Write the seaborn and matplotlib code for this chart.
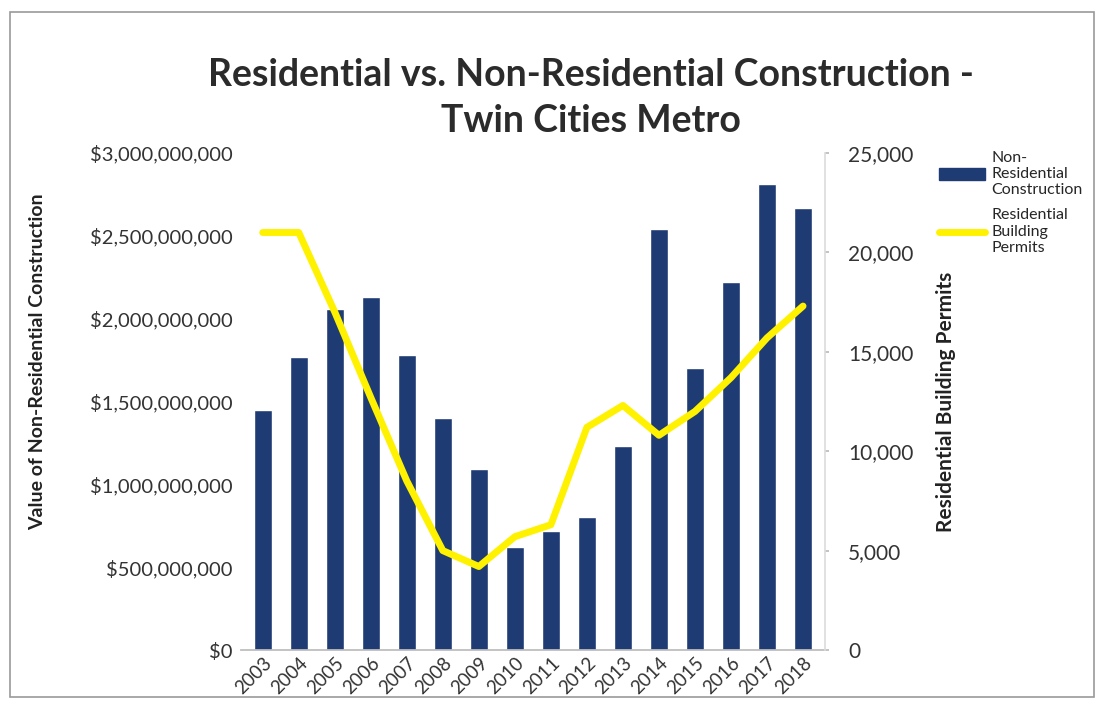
import matplotlib
matplotlib.use("Agg")
import matplotlib.pyplot as plt
import matplotlib.ticker as mticker
from matplotlib.patches import Rectangle
from matplotlib.lines import Line2D
import seaborn as sns
import pandas as pd
import numpy as np

years = ["2003", "2004", "2005", "2006", "2007", "2008", "2009", "2010",
         "2011", "2012", "2013", "2014", "2015", "2016", "2017", "2018"]
nonres_value = [1.45e9, 1.77e9, 2.06e9, 2.13e9, 1.78e9, 1.40e9, 1.09e9, 0.62e9,
                0.72e9, 0.80e9, 1.23e9, 2.54e9, 1.70e9, 2.22e9, 2.81e9, 2.67e9]
res_permits = [21000, 21000, 17000, 12700, 8500, 5000, 4200, 5700,
               6300, 11200, 12300, 10800, 12000, 13700, 15700, 17300]

sns.set_theme(style="white")
plt.rcParams['font.family'] = ['Lato', 'DejaVu Sans']

df = pd.DataFrame({"year": years, "value": nonres_value, "permits": res_permits})
df["pos"] = np.arange(len(df))

fig = plt.figure(figsize=(11.01, 7.05), dpi=100)
ax = fig.add_axes([0.219, 0.078, 0.530, 0.705])

sns.barplot(data=df, x="year", y="value", color="#1F3B73", saturation=1,
            width=0.5, ax=ax)
ax.set_ylim(0, 3e9)
ax.set_xlim(-0.6, len(years) - 0.4)
ax.yaxis.set_major_locator(mticker.MultipleLocator(5e8))
ax.yaxis.set_major_formatter(mticker.FuncFormatter(lambda v, p: f"${v:,.0f}"))
ax.set_xlabel("")
ax.set_ylabel("Value of Non-Residential Construction", fontsize=14,
              fontweight="bold", color="#222222", labelpad=20)
ax.yaxis.set_label_coords(-0.335, 0.58)
ax.tick_params(axis="y", labelsize=14.5, colors="#333333", length=0, pad=6)
ax.tick_params(axis="x", labelsize=13.5, colors="#333333", length=0, pad=3)
for lbl in ax.get_xticklabels():
    lbl.set_rotation(45)
    lbl.set_ha("right")
    lbl.set_rotation_mode("anchor")
for s in ["top", "left", "right"]:
    ax.spines[s].set_visible(False)
ax.spines["bottom"].set_color("#BBBBBB")

ax2 = ax.twinx()
sns.lineplot(data=df, x="pos", y="permits", color="#FFF200", linewidth=5,
             ax=ax2, legend=False)
ax2.set_ylim(0, 25000)
ax2.set_xlim(-0.6, len(years) - 0.4)
ax2.yaxis.set_major_locator(mticker.MultipleLocator(5000))
ax2.yaxis.set_major_formatter(mticker.FuncFormatter(lambda v, p: f"{v:,.0f}"))
ax2.set_ylabel("Residential Building Permits", fontsize=15, fontweight="bold",
               color="#222222", labelpad=16)
ax2.tick_params(axis="y", labelsize=15, colors="#333333", length=3, pad=14,
                color="#BBBBBB")
for s in ["top", "left", "bottom"]:
    ax2.spines[s].set_visible(False)
ax2.spines["right"].set_color("#DDDDDD")
ax2.set_xlabel("")

fig.text(0.537, 0.893, "Residential vs. Non-Residential Construction -",
         ha="center", va="center", fontsize=27, fontweight="bold", color="#2B2B2B")
fig.text(0.537, 0.828, "Twin Cities Metro",
         ha="center", va="center", fontsize=27, fontweight="bold", color="#2B2B2B")

handles = [Rectangle((0, 0), 1, 1, color="#1F3B73"),
           Line2D([0], [0], color="#FFF200", linewidth=5)]
labels = ["Non-\nResidential\nConstruction", "Residential\nBuilding\nPermits"]
fig.legend(handles, labels, loc="upper left", bbox_to_anchor=(0.847, 0.795),
           frameon=False, fontsize=11.5, handlelength=2.9, handletextpad=0.4,
           labelspacing=0.7, borderaxespad=0)

fig.patches.append(Rectangle((0.009, 0.011), 0.985, 0.972, transform=fig.transFigure,
                             fill=False, edgecolor="#999999", linewidth=1.2))

fig.savefig("out.png", dpi=100)
